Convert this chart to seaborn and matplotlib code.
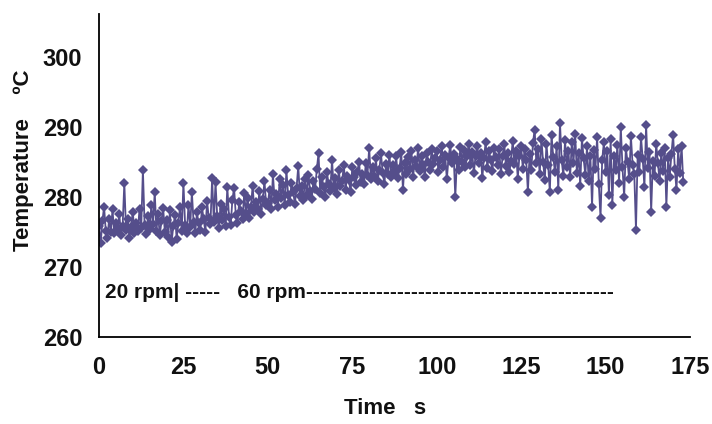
import numpy as np
import pandas as pd
import matplotlib
matplotlib.use("Agg")
import matplotlib.pyplot as plt
import seaborn as sns
from matplotlib import font_manager

# ---- data (temperature samples every 0.5 s) ----
temp_0_10 = [275.8, 273.4, 276.5, 278.6, 275.2, 274.1, 276.9, 275.0, 278.2, 274.8,
             276.3, 275.4, 277.6, 274.6, 275.9, 282.0, 275.3, 276.8, 274.2, 275.7]
temp_10_20 = [277.9, 274.9, 276.2, 275.1, 278.3, 275.6, 283.9, 276.0, 274.7, 277.2,
              275.4, 278.8, 276.1, 280.7, 275.2, 277.5, 274.5, 276.6, 278.4, 275.0]
temp_20_30 = [276.7, 274.3, 278.1, 273.6, 275.8, 277.4, 274.0, 276.3, 278.6, 275.1,
              282.0, 276.0, 274.8, 278.9, 275.7, 280.7, 276.4, 274.9, 277.8, 276.2]
temp_30_40 = [275.3, 278.5, 276.8, 275.0, 279.4, 277.0, 276.1, 282.7, 276.4, 282.1,
              277.3, 275.6, 279.0, 276.7, 278.2, 275.9, 281.4, 277.1, 276.0, 279.6]
temp_40_50 = [281.3, 277.4, 276.3, 279.2, 278.0, 276.8, 280.5, 277.7, 279.9, 277.0,
              278.6, 281.6, 277.9, 279.3, 278.3, 280.8, 277.6, 279.7, 282.2, 278.9]
temp_50_60 = [279.1, 281.0, 278.2, 283.2, 279.6, 280.4, 278.6, 282.5, 279.9, 281.7,
              278.8, 283.8, 280.2, 279.3, 282.0, 280.7, 279.0, 281.3, 284.4, 280.1]
temp_60_70 = [281.5, 279.5, 282.6, 280.3, 283.1, 280.9, 279.7, 282.3, 281.1, 284.0,
              286.2, 280.6, 282.8, 281.4, 280.0, 283.5, 281.8, 280.8, 285.3, 281.2]
temp_70_80 = [282.7, 280.4, 283.9, 281.6, 282.2, 284.6, 281.0, 283.0, 282.4, 280.7,
              284.2, 282.9, 281.7, 283.6, 285.0, 282.1, 283.3, 281.9, 284.8, 283.1]
temp_80_90 = [287.0, 282.6, 284.3, 283.0, 285.5, 282.3, 283.8, 286.2, 283.4, 281.9,
              284.7, 283.2, 286.0, 282.8, 284.5, 283.6, 285.8, 282.7, 284.1, 286.4]
temp_90_100 = [281.0, 284.9, 283.3, 285.7, 284.0, 286.6, 282.9, 285.2, 284.4, 287.0,
               283.7, 285.9, 284.6, 282.8, 286.3, 285.0, 283.9, 286.8, 284.7, 285.5]
temp_100_110 = [286.5, 283.6, 285.3, 287.2, 284.2, 286.0, 282.5, 285.6, 287.4, 284.8,
                286.1, 280.0, 285.4, 283.8, 287.1, 285.0, 286.7, 284.3, 285.8, 287.6]
temp_110_120 = [284.5, 286.4, 283.4, 285.9, 287.3, 284.9, 286.2, 282.7, 285.6, 287.8,
                284.1, 286.5, 285.2, 283.7, 287.0, 285.7, 284.6, 286.9, 283.2, 285.8]
temp_120_130 = [287.5, 284.4, 286.3, 283.5, 285.1, 288.0, 284.7, 286.6, 282.6, 285.9,
                287.2, 284.0, 286.8, 285.3, 280.7, 286.1, 283.9, 287.7, 289.6, 284.8]
temp_130_140 = [286.9, 283.2, 288.3, 285.0, 282.4, 287.6, 284.5, 280.7, 288.9, 285.7,
                283.6, 287.3, 281.0, 290.6, 285.2, 283.0, 288.1, 284.2, 286.6, 282.8]
temp_140_150 = [287.9, 284.9, 289.0, 283.4, 286.2, 281.6, 288.4, 285.5, 283.1, 287.2,
                282.2, 285.9, 278.6, 286.7, 284.0, 288.6, 281.8, 277.0, 285.3, 287.8]
temp_150_160 = [283.5, 286.5, 280.2, 288.2, 278.9, 285.8, 283.8, 287.4, 282.0, 290.0,
                284.3, 280.0, 287.0, 285.0, 282.5, 288.7, 284.6, 283.3, 275.3, 286.0]
temp_160_170 = [283.6, 288.5, 285.4, 281.4, 290.3, 284.1, 286.4, 277.9, 285.1, 283.0,
                287.5, 284.8, 282.3, 286.3, 283.7, 287.0, 278.6, 285.6, 282.9, 286.1]
temp_170_173 = [288.9, 284.0, 281.0, 286.8, 283.4, 287.3, 282.1]

sample_step = 0.5
x_ticks = [0, 25, 50, 75, 100, 125, 150, 175]
y_ticks = [260, 270, 280, 290, 300]
annotation = "20 rpm| -----   60 rpm" + "-" * 44

temps = (temp_0_10 + temp_10_20 + temp_20_30 + temp_30_40 + temp_40_50 + temp_50_60
         + temp_60_70 + temp_70_80 + temp_80_90 + temp_90_100 + temp_100_110
         + temp_110_120 + temp_120_130 + temp_130_140 + temp_140_150
         + temp_150_160 + temp_160_170 + temp_170_173)
times = np.arange(len(temps)) * sample_step
df = pd.DataFrame({"time": times, "temp": temps})

# ---- style ----
sns.set_style("white")
installed = {f.name for f in font_manager.fontManager.ttflist}
fam = ["Liberation Sans Narrow", "Liberation Sans", "DejaVu Sans"]
fam = [f for f in fam if f in installed] or ["DejaVu Sans"]
plt.rcParams["font.family"] = fam
plt.rcParams["font.weight"] = "bold"
plt.rcParams["text.color"] = "#111111"
plt.rcParams["axes.labelcolor"] = "#111111"

fig = plt.figure(figsize=(7.12, 4.24), dpi=100)
ax = fig.add_axes([99 / 712, 1 - 337 / 424, (690 - 99) / 712, (337 - 14) / 424])

color = "#554e8b"
sns.lineplot(data=df, x="time", y="temp", ax=ax, color=color, linewidth=1.3,
             marker="D", markersize=5.5, markeredgewidth=0, markerfacecolor=color)

ax.set_xlim(0, 175)
ax.set_ylim(260, 306.1)
ax.set_xticks(x_ticks)
ax.set_yticks(y_ticks)
ax.tick_params(axis="both", direction="out", length=6, width=1.3, colors="black",
               labelcolor="#111111", labelsize=17, pad=6)
for lab in ax.get_xticklabels() + ax.get_yticklabels():
    lab.set_fontweight("bold")
ax.tick_params(axis="x", pad=8)

for s in ["top", "right"]:
    ax.spines[s].set_visible(False)
for s in ["left", "bottom"]:
    ax.spines[s].set_color("black")
    ax.spines[s].set_linewidth(1.3)

ax.set_xlabel("Time   s", fontsize=16, fontweight="bold")
ax.set_ylabel("Temperature    \u00baC", fontsize=16, fontweight="bold")
ax.xaxis.set_label_coords(0.484, -0.19)
ax.yaxis.set_label_coords(-0.11, 0.548)

ax.text(1.8, 266.4, annotation, fontsize=15, fontweight="bold", va="center", ha="left")

fig.savefig("out.png", dpi=100)
